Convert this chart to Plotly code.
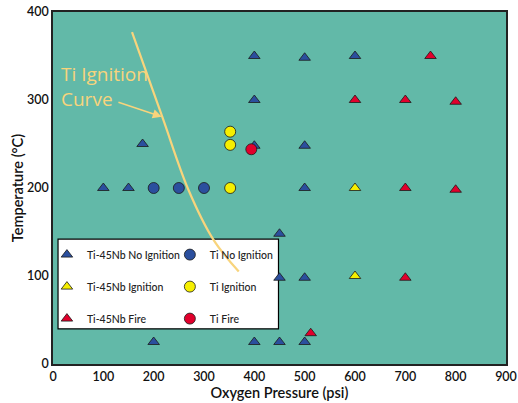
import plotly.graph_objects as go

# ---- data ----
nb_no_x = [400, 500, 600, 400, 178, 400, 500, 100, 150, 500, 450, 450, 500, 200, 400, 450, 500]
nb_no_y = [350, 348, 350, 300, 250, 248, 248, 200, 200, 200, 148, 98, 98, 25, 25, 25, 25]
nb_ign_x = [600, 600]
nb_ign_y = [200, 100]
nb_fire_x = [750, 600, 700, 800, 700, 800, 700, 512]
nb_fire_y = [350, 300, 300, 298, 200, 198, 98, 35]
ti_no_x = [200, 250, 300]
ti_no_y = [200, 200, 200]
ti_ign_x = [352, 352, 352]
ti_ign_y = [264, 249, 200]
ti_fire_x = [394]
ti_fire_y = [244]
curve_x = [157, 217, 269, 319, 369]
curve_y = [377, 281, 198, 141, 105]

BLUE = "#2b4f9e"
YEL = "#f6ef00"
RED = "#e1002c"
CURVE = "#f8d47c"
BG = "#62b9a8"
FONT = "Lato"

fig = go.Figure()

# legend box (drawn below the traces)
fig.add_shape(type="rect", xref="x", yref="y", x0=10, x1=448, y0=40, y1=142,
              fillcolor="white", line=dict(color="black", width=1.2), layer="below")

fig.add_trace(go.Scatter(x=curve_x, y=curve_y, mode="lines", line=dict(color=CURVE, width=2.2, shape="spline"),
                         showlegend=False, hoverinfo="skip"))

def pts(x, y, sym, col, name, leg, grp):
    fig.add_trace(go.Scatter(x=x, y=y, mode="markers", name=name, legend=leg, legendgroup=grp,
                             marker=dict(symbol=sym, color=col, size=11 if sym == "circle" else 10,
                                         line=dict(color="#1a1a1a", width=0.8))))

pts(nb_no_x, nb_no_y, "triangle-up", BLUE, "Ti-45Nb No Ignition", "legend", "a")
pts(nb_ign_x, nb_ign_y, "triangle-up", YEL, "Ti-45Nb Ignition", "legend", "b")
pts(nb_fire_x, nb_fire_y, "triangle-up", RED, "Ti-45Nb Fire", "legend", "c")
pts(ti_no_x, ti_no_y, "circle", BLUE, "Ti No Ignition", "legend2", "d")
pts(ti_ign_x, ti_ign_y, "circle", YEL, "Ti Ignition", "legend2", "e")
pts(ti_fire_x, ti_fire_y, "circle", RED, "Ti Fire", "legend2", "f")

annfont = dict(family="Open Sans", size=19, color=CURVE, weight=500)
fig.add_annotation(x=12, y=315, xref="x", yref="y", text="Ti Ignition<br>Curve", showarrow=False,
                   xanchor="left", yanchor="middle", align="left", font=annfont)
fig.add_annotation(x=216, y=281, ax=127, ay=298, xref="x", yref="y", axref="x", ayref="y",
                   text="", showarrow=True, arrowhead=2, arrowsize=1.2, arrowwidth=1.5, arrowcolor=CURVE)

legfont = dict(family=FONT, size=10.5, color="#222", weight=500)
fig.update_layout(
    width=518, height=403,
    margin=dict(l=53, r=12, t=12, b=39, autoexpand=False),
    paper_bgcolor="white", plot_bgcolor=BG,
    font=dict(family=FONT, color="#111"),
    legend=dict(x=-0.0134, y=0.352, xanchor="left", yanchor="top", bgcolor="rgba(0,0,0,0)",
                tracegroupgap=13, font=legfont, itemwidth=30),
    legend2=dict(x=0.258, y=0.352, xanchor="left", yanchor="top", bgcolor="rgba(0,0,0,0)",
                 tracegroupgap=13, font=legfont, itemwidth=30),
    xaxis=dict(range=[0, 900], tickvals=[0, 100, 200, 300, 400, 500, 600, 700, 800, 900],
               showgrid=False, zeroline=False, showline=True, mirror=True, linecolor="#222", linewidth=1.5,
               ticks="", automargin=False, tickfont=dict(family=FONT, size=12.5, color="#111", weight=600),
               title=dict(text="Oxygen Pressure (psi)", font=dict(family=FONT, size=14.5, color="#111", weight=600), standoff=2)),
    yaxis=dict(range=[0, 400], tickvals=[0, 100, 200, 300, 400],
               showgrid=False, zeroline=False, showline=True, mirror=True, linecolor="#222", linewidth=1.5,
               ticks="", automargin=False, tickfont=dict(family=FONT, size=12.5, color="#111", weight=600),
               title=dict(text="Temperature (°C)", font=dict(family=FONT, size=14.5, color="#111", weight=600), standoff=0)),
)

fig.write_html("out.html", config={"displayModeBar": False},
               post_script="document.body.style.margin='0px';")
